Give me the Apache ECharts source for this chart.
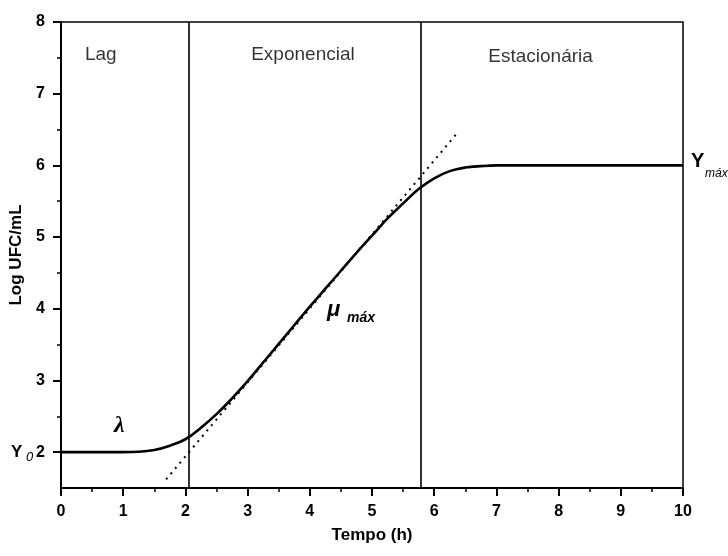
<!DOCTYPE html>
<html>
<head>
<meta charset="utf-8">
<script src="https://cdn.jsdelivr.net/npm/echarts@6/dist/echarts.min.js"></script>
<style>html,body{margin:0;padding:0;background:#fff;}#c{width:728px;height:556px;}</style>
</head>
<body>
<div id="c"></div>
<script>
// Growth curve
const curveX = [0, 0.5, 1.0, 1.25, 1.5, 1.75, 2.0, 2.25, 2.5, 2.75, 3.0, 3.25, 3.5, 3.75, 4.0, 4.25, 4.5, 4.75, 5.0, 5.25, 5.5, 5.75, 6.0, 6.25, 6.5, 6.75, 7.0, 7.5, 8.0, 9.0, 10];
const curveY = [2, 2, 2.0, 2.005, 2.03, 2.09, 2.18, 2.34, 2.53, 2.75, 2.99, 3.25, 3.51, 3.77, 4.03, 4.28, 4.53, 4.78, 5.02, 5.26, 5.47, 5.67, 5.82, 5.92, 5.97, 5.99, 6.0, 6.0, 6.0, 6.0, 6.0];
// Tangent (dotted) line endpoints
const tangentX = [1.69, 6.35];
const tangentY = [1.62, 6.43];
// Phase boundaries
const phaseX = [2.06, 5.78];
// Phase labels
const phaseNames = ['Lag', 'Exponencial', 'Estacionária'];
const phaseLabelX = [0.64, 3.89, 7.71];
const phaseLabelY = [7.54, 7.54, 7.52];
// Axis ticks
const xMin = 0, xMax = 10;
const yMin = 1.5, yMax = 8;
const yMajor = [2, 3, 4, 5, 6, 7, 8];
const yMinor = [2.5, 3.5, 4.5, 5.5, 6.5, 7.5];

const FONT = 'Liberation Sans, Arial, sans-serif';
const chart = echarts.init(document.getElementById('c'), null, {renderer: 'canvas'});

const gridL = 61, gridR = 45, gridT = 22, gridB = 68;

const option = {
  animation: false,
  backgroundColor: '#fff',
  grid: {left: gridL, right: gridR, top: gridT, bottom: gridB, show: true, borderColor: '#000', borderWidth: 1.5, backgroundColor: 'transparent', containLabel: false},
  xAxis: {
    type: 'value', min: xMin, max: xMax, interval: 1,
    name: 'Tempo (h)', nameLocation: 'middle', nameGap: 39,
    nameTextStyle: {fontFamily: FONT, fontWeight: 'bold', fontSize: 17, color: '#000'},
    axisLine: {show: true, onZero: false, lineStyle: {color: '#000', width: 2}},
    axisTick: {show: true, inside: false, length: 8, lineStyle: {color: '#000', width: 2}},
    minorTick: {show: true, splitNumber: 2, length: 4, lineStyle: {color: '#000', width: 1.5}},
    axisLabel: {margin: 16, fontFamily: FONT, fontWeight: 'bold', fontSize: 16, color: '#000'},
    splitLine: {show: false}
  },
  yAxis: [{
    type: 'value', min: yMin, max: yMax,
    name: 'Log UFC/mL', nameLocation: 'middle', nameGap: 29,
    nameTextStyle: {fontFamily: FONT, fontWeight: 'bold', fontSize: 17, color: '#000'},
    axisLine: {show: true, onZero: false, lineStyle: {color: '#000', width: 2}},
    axisTick: {show: true, inside: false, length: 8, customValues: yMajor, lineStyle: {color: '#000', width: 2}},
    axisLabel: {margin: 16, customValues: yMajor, fontFamily: FONT, fontWeight: 'bold', fontSize: 16, color: '#000'},
    splitLine: {show: false}
  }, {
    type: 'value', min: yMin, max: yMax, position: 'left', offset: 0,
    axisLine: {show: false},
    axisTick: {show: true, inside: false, length: 4, customValues: yMinor, lineStyle: {color: '#000', width: 1.5}},
    axisLabel: {show: false},
    splitLine: {show: false}
  }],
  series: [
    {
      type: 'line', silent: true, symbol: 'none', data: [],
      markLine: {
        silent: true, symbol: ['none', 'none'], label: {show: false},
        lineStyle: {color: '#000', width: 1.6, type: 'solid'},
        data: phaseX.map(v => ({xAxis: v}))
      }
    },
    {
      type: 'line', silent: true, symbol: 'none',
      data: tangentX.map((x, i) => [x, tangentY[i]]),
      lineStyle: {color: '#000', width: 2, type: [2, 5]}
    },
    {
      type: 'line', silent: true, symbol: 'none', smooth: 0.4,
      data: curveX.map((x, i) => [x, curveY[i]]),
      lineStyle: {color: '#000', width: 2.6}
    },
    {
      type: 'scatter', silent: true, symbolSize: 0,
      data: phaseNames.map((n, i) => ({value: [phaseLabelX[i], phaseLabelY[i]], name: n})),
      label: {show: true, position: 'inside', formatter: p => p.name, fontFamily: FONT, fontSize: 19, color: '#000'}
    }
  ],
  graphic: [
    {type: 'text', left: 114, top: 414, style: {text: 'λ', font: 'italic bold 24px "Liberation Serif", serif', fill: '#000'}},
    {type: 'text', left: 327, top: 299, style: {text: 'μ', font: 'italic bold 22px "Liberation Sans", sans-serif', fill: '#000'}},
    {type: 'text', left: 347, top: 311, style: {text: 'máx', font: 'italic bold 14px "Liberation Sans", sans-serif', fill: '#000'}},
    {type: 'text', left: 11, top: 444, style: {text: 'Y', font: 'bold 17px "Liberation Sans", sans-serif', fill: '#000'}},
    {type: 'text', left: 26, top: 451, style: {text: '0', font: 'italic 13px "Liberation Sans", sans-serif', fill: '#000'}},
    {type: 'text', left: 691, top: 151, style: {text: 'Y', font: 'bold 20px "Liberation Sans", sans-serif', fill: '#000'}},
    {type: 'text', left: 705, top: 168, style: {text: 'máx', font: 'italic 12px "Liberation Sans", sans-serif', fill: '#000'}}
  ]
};
chart.setOption(option);
</script>
</body>
</html>
